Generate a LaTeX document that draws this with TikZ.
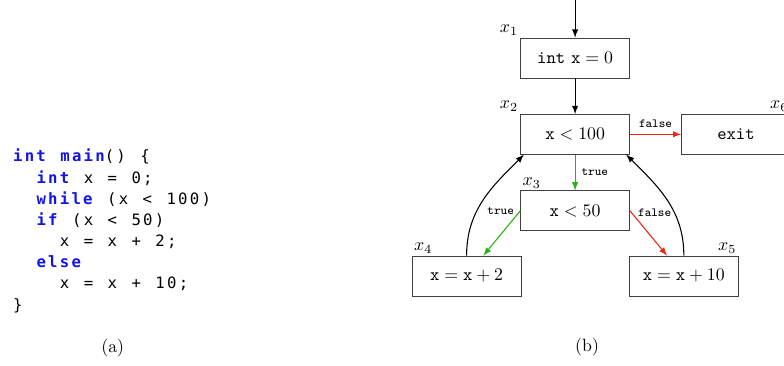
\documentclass[tikz,border=0pt]{standalone}
\usepackage{fontspec}
\usepackage{xcolor}
\usepackage{tikz}

\newfontfamily\codefont[LetterSpace=14.4, WordSpace=1.24]{DejaVu Sans Mono}
\definecolor{kwblue}{RGB}{20,20,230}
\definecolor{truegreen}{RGB}{40,175,20}
\definecolor{falsered}{RGB}{235,40,20}
\newdimen\codecw \codecw=6.57pt
\newcommand\kw[1]{\textcolor{kwblue}{\bfseries #1}}
\newcommand\ind[1]{\hspace*{#1\codecw}}

\begin{document}
\begin{tikzpicture}[>=latex, semithick,
    blk/.style={draw=black!75, thin, minimum width=2.15cm, minimum height=0.79cm, inner sep=2pt},
    lbl/.style={inner sep=1pt},
    cond/.style={font=\scriptsize\ttfamily},
    yes/.style={->, draw=truegreen},
    no/.style={->, draw=falsered}]

    \clip (-11.37,1.145) rectangle (4.13,-6.09);

    % (a) source code
    \node[anchor=west, inner sep=0pt, align=left,
          font=\codefont\fontsize{8.8}{11.9}\selectfont] (code) at (-11.12,-3.42) {%
      \kw{int} \kw{main}() \{\\
      \ind{2}\kw{int} x = 0;\\
      \ind{2}\kw{while} (x < 100)\\
      \ind{2}\kw{if} (x < 50)\\
      \ind{4}x = x + 2;\\
      \ind{2}\kw{else}\\
      \ind{4}x = x + 10;\\
      \}};
    \node (capa) at (-9.14,-5.735) {(a)};

    % (b) control flow graph
    \coordinate (entry) at (0,1.3);
    \node[blk, label={[lbl]north west:$x_1$}] (x1) at (0,0) {\texttt{int} $\mathtt{x} = 0$};
    \node[blk, label={[lbl]north west:$x_2$}] (x2) at (0,-1.51) {$\mathtt{x} < 100$};
    \node[blk, label={[lbl, anchor=south east]north east:$x_6$}] (exit) at (3.18,-1.51) {\texttt{exit}};
    \node[blk, label={[lbl, anchor=south west]north west:$x_3$}] (x3) at (0,-3.02) {$\mathtt{x} < 50$};
    \node[blk, label={[lbl, anchor=south west]north west:$x_4$}] (x4) at (-2.145,-4.31) {$\mathtt{x} = \mathtt{x} + 2$};
    \node[blk, label={[lbl, anchor=south east]north east:$x_5$}] (x5) at (2.15,-4.31) {$\mathtt{x} = \mathtt{x} + 10$};
    \node (capb) at (0.237,-5.72) {(b)};

    \draw[->] (entry) -- (x1);
    \draw[->] (x1) -- (x2);
    \draw[no] (x2) -- node[cond, above] {false} (exit);
    \draw[yes] (x2) -- node[cond, right] {true} (x3);
    \draw[yes] (x3.west) -- node[cond, pos=0, left] {true} (x4);
    \draw[no] (x3.east) -- node[cond, pos=0.05, right] {false} (x5);
    \draw[->] (x4.north) to[out=90, in=225] ([xshift=2pt]x2.south west);
    \draw[->] (x5.north) to[out=90, in=-45] ([xshift=-2pt]x2.south east);
\end{tikzpicture}
\end{document}
